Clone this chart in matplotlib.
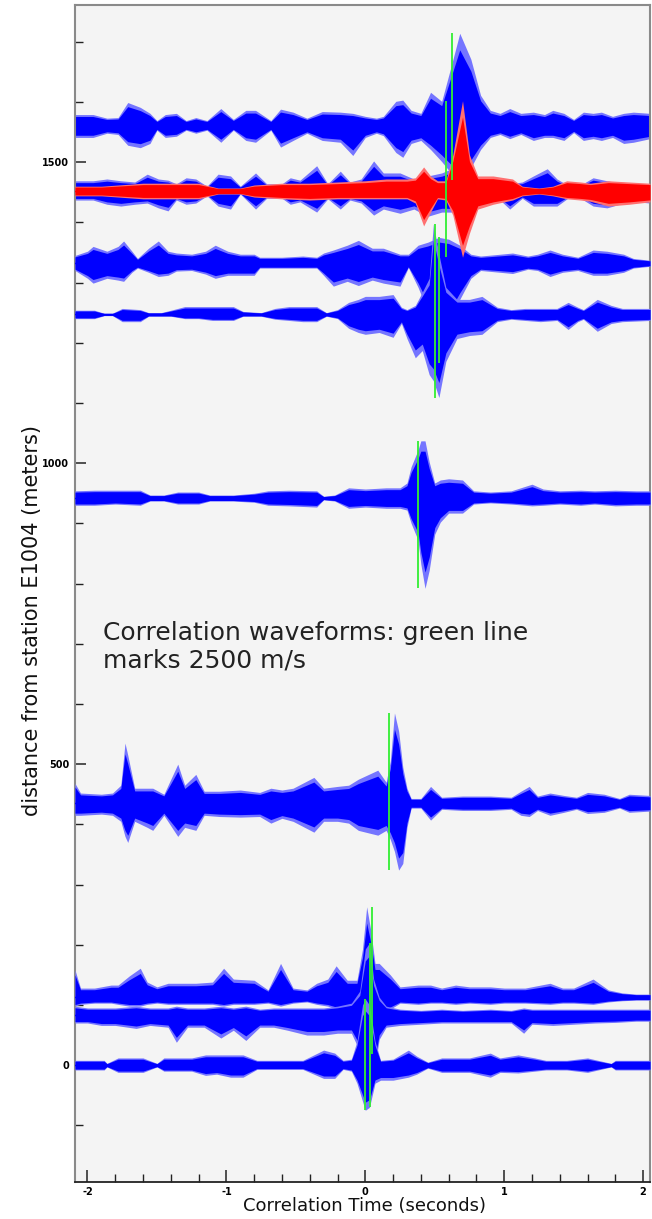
import matplotlib
matplotlib.use("Agg")
import matplotlib.pyplot as plt
from matplotlib.ticker import MultipleLocator, FixedLocator
import numpy as np

# ---------------- data ----------------
velocity = 2500  # m/s marked by green lines

# trace baselines: distance from station E1004 (m)
dist_1, dist_2, dist_3, dist_4 = 1561, 1452, 1332, 1247
dist_5, dist_6, dist_7, dist_8, dist_9 = 942, 435, 113, 83, 0

# envelope knots: time (s), upper amplitude (m), lower amplitude (m)
t1 = [-2.09, -1.96, -1.86, -1.78, -1.71, -1.62, -1.55, -1.50, -1.44, -1.36, -1.29, -1.22, -1.14, -1.04,
      -0.95, -0.86, -0.79, -0.68, -0.61, -0.52, -0.42, -0.31, -0.18, -0.09, 0.0, 0.08, 0.13, 0.22, 0.27,
      0.33, 0.40, 0.47, 0.55, 0.62, 0.68, 0.76, 0.83, 0.90, 0.97, 1.04, 1.12, 1.21, 1.29, 1.35, 1.43,
      1.50, 1.57, 1.64, 1.70, 1.78, 1.86, 1.93, 2.05]
u1 = [18, 18, 12, 13, 38, 30, 20, 8, 18, 20, 8, 13, 8, 28, 10, 25, 25, 8, 27, 22, 12, 23, 22, 20, 15, 12,
      15, 40, 42, 25, 20, 55, 40, 100, 153, 110, 50, 25, 20, 28, 20, 22, 18, 25, 20, 10, 22, 20, 22, 15,
      20, 22, 20]
d1 = [20, 20, 13, 15, 33, 37, 30, 8, 20, 18, 8, 13, 8, 28, 8, 25, 28, 8, 36, 25, 13, 25, 28, 50, 20, 13,
      17, 45, 53, 30, 25, 40, 60, 80, 90, 70, 40, 20, 15, 22, 15, 25, 20, 20, 25, 12, 25, 22, 25, 20,
      30, 28, 22]

t2 = [-2.09, -1.96, -1.86, -1.76, -1.66, -1.57, -1.49, -1.42, -1.36, -1.29, -1.22, -1.14, -1.06, -0.97,
      -0.90, -0.79, -0.71, -0.60, -0.54, -0.47, -0.35, -0.27, -0.18, -0.11, -0.03, 0.06, 0.13, 0.25,
      0.35, 0.45, 0.55, 0.65, 0.75, 0.88, 0.97, 1.04, 1.13, 1.21, 1.31, 1.38, 1.47, 1.55, 1.64, 1.74,
      1.86, 1.96, 2.05]
u2 = [17, 17, 20, 17, 15, 28, 20, 18, 12, 22, 20, 8, 28, 25, 8, 30, 12, 12, 22, 18, 42, 12, 33, 15, 20,
      50, 30, 30, 20, 25, 30, 40, 30, 12, 10, 12, 15, 25, 37, 20, 8, 10, 22, 17, 12, 12, 12]
d2 = [15, 15, 22, 25, 22, 20, 28, 33, 15, 22, 20, 8, 25, 30, 5, 30, 12, 12, 22, 18, 35, 13, 30, 15, 20,
      40, 30, 37, 30, 42, 35, 35, 30, 13, 15, 30, 12, 25, 25, 25, 10, 12, 25, 28, 20, 18, 20]

t_red = [-2.09, -1.90, -1.78, -1.60, -1.40, -1.20, -1.06, -0.90, -0.80, -0.60, -0.40, -0.20, 0.0, 0.15,
         0.30, 0.36, 0.42, 0.47, 0.52, 0.58, 0.63, 0.70, 0.75, 0.81, 0.92, 1.06, 1.13, 1.25, 1.35, 1.45,
         1.55, 1.62, 1.75, 1.90, 2.05]
u_red = [8, 8, 10, 13, 13, 13, 5, 5, 10, 13, 13, 15, 17, 20, 20, 22, 40, 25, 17, 17, 60, 150, 60, 25, 25,
         20, 8, 5, 8, 17, 15, 13, 17, 15, 13]
d_red = [8, 8, 10, 13, 13, 13, 5, 5, 10, 13, 15, 13, 13, 13, 13, 20, 58, 35, 13, 15, 40, 110, 70, 30, 22,
         15, 8, 5, 8, 13, 15, 17, 25, 22, 18]

t3 = [-2.09, -2.00, -1.96, -1.86, -1.78, -1.74, -1.68, -1.64, -1.56, -1.49, -1.42, -1.36, -1.25, -1.15,
      -1.08, -0.99, -0.90, -0.80, -0.76, -0.60, -0.45, -0.35, -0.30, -0.23, -0.13, -0.05, 0.05, 0.13,
      0.25, 0.31, 0.38, 0.45, 0.53, 0.60, 0.68, 0.76, 0.83, 0.97, 1.06, 1.17, 1.24, 1.33, 1.42, 1.53,
      1.64, 1.74, 1.86, 1.93, 2.05]
u3 = [13, 20, 28, 20, 28, 37, 20, 8, 25, 37, 20, 17, 15, 20, 30, 20, 15, 15, 10, 10, 12, 10, 17, 22, 30,
      38, 25, 25, 15, 15, 30, 35, 43, 40, 30, 15, 12, 15, 17, 12, 15, 22, 15, 10, 22, 20, 15, 8, 5]
d3 = [12, 25, 33, 25, 28, 30, 15, 8, 15, 22, 20, 13, 12, 18, 25, 20, 20, 20, 8, 8, 8, 8, 20, 38, 30, 37,
      28, 33, 38, 7, 40, 80, 166, 100, 60, 25, 12, 15, 17, 10, 12, 22, 15, 12, 20, 20, 15, 8, 5]

t4 = [-2.09, -1.95, -1.88, -1.82, -1.75, -1.62, -1.56, -1.47, -1.40, -1.30, -1.20, -1.10, -0.95, -0.88,
      -0.75, -0.65, -0.55, -0.45, -0.35, -0.28, -0.20, -0.12, -0.05, 0.0, 0.10, 0.20, 0.26, 0.30, 0.36,
      0.41, 0.46, 0.49, 0.53, 0.58, 0.66, 0.75, 0.84, 0.95, 1.05, 1.15, 1.26, 1.38, 1.46, 1.53, 1.57,
      1.67, 1.77, 1.85, 2.05]
u4 = [7, 7, 2, 2, 10, 8, 3, 3, 7, 13, 13, 13, 13, 5, 3, 10, 13, 13, 13, 3, 8, 20, 25, 30, 30, 33, 12, 8,
      15, 37, 60, 150, 100, 45, 25, 25, 30, 12, 8, 10, 10, 10, 20, 12, 8, 25, 15, 10, 10]
d4 = [7, 7, 2, 2, 12, 12, 3, 3, 3, 7, 7, 10, 10, 3, 3, 8, 10, 12, 12, 3, 7, 23, 30, 33, 30, 38, 15, 40,
      72, 60, 100, 110, 138, 78, 40, 35, 33, 12, 8, 10, 12, 10, 25, 12, 8, 28, 15, 12, 10]

t5 = [-2.09, -1.95, -1.80, -1.62, -1.55, -1.45, -1.35, -1.20, -1.12, -0.95, -0.80, -0.70, -0.55, -0.35,
      -0.30, -0.22, -0.12, 0.0, 0.15, 0.25, 0.30, 0.33, 0.38, 0.40, 0.43, 0.46, 0.50, 0.54, 0.60, 0.70,
      0.78, 0.90, 1.05, 1.20, 1.28, 1.40, 1.55, 1.65, 1.80, 1.95, 2.05]
u5 = [12, 13, 13, 13, 5, 5, 10, 10, 5, 5, 8, 12, 13, 12, 3, 5, 17, 15, 17, 17, 25, 52, 80, 95, 95, 60,
      25, 30, 32, 30, 12, 10, 12, 23, 15, 12, 13, 12, 13, 12, 12]
d5 = [12, 12, 10, 12, 5, 5, 10, 10, 5, 5, 7, 12, 13, 15, 3, 5, 17, 15, 17, 17, 20, 42, 70, 110, 150, 120,
      60, 40, 25, 25, 10, 8, 10, 13, 12, 10, 12, 10, 13, 12, 12]

t6 = [-2.09, -2.05, -1.90, -1.82, -1.76, -1.73, -1.71, -1.66, -1.57, -1.53, -1.45, -1.35, -1.30, -1.22,
      -1.16, -1.05, -0.90, -0.76, -0.68, -0.60, -0.52, -0.37, -0.30, -0.20, -0.12, -0.05, 0.09, 0.15,
      0.18, 0.21, 0.24, 0.27, 0.30, 0.33, 0.40, 0.47, 0.55, 0.70, 0.90, 1.05, 1.12, 1.18, 1.24, 1.33,
      1.43, 1.52, 1.60, 1.72, 1.83, 1.90, 2.05]
u6 = [33, 17, 15, 17, 30, 100, 80, 25, 25, 25, 15, 65, 30, 48, 20, 20, 22, 18, 25, 22, 25, 43, 25, 28, 30,
      40, 55, 35, 70, 150, 120, 60, 25, 8, 8, 28, 10, 12, 12, 10, 20, 28, 12, 17, 13, 10, 18, 15, 8, 15, 13]
d6 = [20, 20, 18, 20, 30, 55, 65, 30, 40, 45, 20, 55, 40, 45, 20, 22, 23, 22, 33, 25, 30, 48, 30, 30, 33,
      45, 53, 45, 60, 80, 111, 100, 40, 8, 8, 28, 10, 12, 12, 10, 20, 22, 12, 20, 15, 10, 17, 15, 8, 15, 13]

t7 = [-2.09, -2.05, -1.95, -1.83, -1.78, -1.70, -1.62, -1.57, -1.50, -1.42, -1.33, -1.22, -1.10, -1.02,
      -0.95, -0.80, -0.70, -0.61, -0.52, -0.42, -0.35, -0.27, -0.21, -0.13, -0.06, -0.02, 0.01, 0.04,
      0.07, 0.10, 0.18, 0.25, 0.38, 0.47, 0.55, 0.65, 0.75, 0.90, 1.00, 1.15, 1.33, 1.42, 1.50, 1.64,
      1.75, 1.85, 1.95, 2.05]
u7 = [45, 15, 15, 20, 20, 35, 48, 25, 17, 23, 23, 23, 25, 48, 30, 28, 12, 56, 15, 12, 23, 30, 52, 28, 28,
      80, 150, 110, 56, 56, 37, 17, 20, 20, 15, 20, 17, 17, 15, 15, 23, 15, 15, 30, 12, 7, 5, 5]
d7 = [15, 12, 10, 10, 12, 15, 15, 12, 10, 12, 12, 12, 12, 15, 12, 12, 10, 15, 10, 8, 12, 15, 20, 20, 30,
      60, 95, 80, 40, 30, 20, 10, 12, 10, 10, 12, 10, 12, 10, 10, 12, 10, 10, 12, 8, 6, 5, 5]

t8 = [-2.09, -2.00, -1.90, -1.80, -1.65, -1.55, -1.42, -1.36, -1.28, -1.16, -1.04, -0.95, -0.86, -0.76,
      -0.66, -0.56, -0.42, -0.30, -0.20, -0.10, -0.04, 0.0, 0.03, 0.06, 0.10, 0.15, 0.25, 0.40, 0.55,
      0.70, 0.90, 1.05, 1.14, 1.20, 1.35, 1.50, 1.65, 1.80, 1.95, 2.05]
u8 = [15, 12, 12, 12, 15, 12, 12, 15, 12, 12, 15, 12, 15, 10, 12, 12, 12, 12, 15, 20, 40, 110, 120, 60,
      30, 15, 10, 8, 10, 8, 10, 8, 12, 10, 10, 10, 10, 10, 10, 10]
d8 = [13, 13, 17, 17, 22, 17, 20, 45, 20, 20, 38, 25, 42, 20, 20, 25, 33, 33, 30, 30, 60, 120, 153, 100,
      40, 20, 17, 15, 13, 13, 13, 13, 30, 15, 17, 15, 13, 12, 10, 10]

t9 = [-2.09, -1.88, -1.86, -1.78, -1.60, -1.50, -1.45, -1.25, -1.15, -1.07, -0.97, -0.88, -0.78, -0.55,
      -0.45, -0.30, -0.22, -0.16, -0.10, -0.06, -0.02, 0.0, 0.03, 0.07, 0.11, 0.20, 0.31, 0.37, 0.45,
      0.55, 0.75, 0.90, 0.97, 1.10, 1.22, 1.30, 1.45, 1.60, 1.77, 1.80, 1.95, 2.05]
u9 = [8, 8, 3, 12, 12, 3, 12, 12, 17, 17, 17, 17, 8, 8, 8, 25, 20, 8, 10, 40, 100, 110, 100, 40, 8, 10,
      25, 15, 5, 12, 12, 20, 12, 17, 12, 8, 8, 12, 3, 8, 8, 8]
d9 = [8, 8, 3, 12, 12, 3, 10, 10, 17, 15, 20, 20, 7, 7, 7, 22, 22, 7, 10, 30, 60, 75, 70, 30, 25, 25,
      20, 15, 5, 12, 12, 20, 12, 13, 10, 8, 8, 12, 3, 8, 8, 8]

x_ticks = [-2, -1, 0, 1, 2]
y_ticks = [0, 500, 1000, 1500]
x_label = "Correlation Time (seconds)"
y_label = "distance from station E1004 (meters)"
note = "Correlation waveforms: green line\nmarks 2500 m/s"

# ---------------- figure ----------------
fig = plt.figure(figsize=(6.52, 12.19), dpi=100)
ax = fig.add_axes([0.115, 0.0304, 0.882, 0.9655])
ax.set_facecolor("#f4f4f4")

blue_traces = [
    (dist_1, t1, u1, d1), (dist_2, t2, u2, d2), (dist_3, t3, u3, d3), (dist_4, t4, u4, d4),
    (dist_5, t5, u5, d5), (dist_6, t6, u6, d6), (dist_7, t7, u7, d7), (dist_8, t8, u8, d8),
    (dist_9, t9, u9, d9),
]


def draw_trace(base, t, up, dn, light, dark, z):
    t = np.asarray(t, float)
    up = np.asarray(up, float)
    dn = np.asarray(dn, float)
    ax.fill_between(t, base + up, base - dn, color=light, lw=0, zorder=z)
    ax.fill_between(t, base + 0.82 * up, base - 0.82 * dn, color=dark, lw=0, zorder=z + 0.1)
    ax.plot(t, np.full_like(t, base), color=dark, lw=1.0, zorder=z + 0.2)


for i, (base, t, up, dn) in enumerate(blue_traces):
    draw_trace(base, t, up, dn, "#7575ff", "#0000ff", 2 + i * 0.3)

draw_trace(dist_2, t_red, u_red, d_red, "#ff7070", "#ff0000", 6)

# green lines: arrival time at 2500 m/s, spanning each trace's extent
for base, t, up, dn in blue_traces:
    top = max(up)
    bot = max(dn)
    if base == dist_2:
        top = max(top, max(u_red))
        bot = max(bot, max(d_red))
    ax.vlines(base / velocity, base - bot, base + top, color="#33ee33", lw=1.3, zorder=8)

ax.set_xlim(-2.09, 2.05)
ax.set_ylim(-194, 1761)

ax.xaxis.set_major_locator(FixedLocator(x_ticks))
ax.xaxis.set_minor_locator(MultipleLocator(0.2))
ax.yaxis.set_major_locator(FixedLocator(y_ticks))
ax.yaxis.set_minor_locator(MultipleLocator(100))
ax.set_xticklabels([str(v) for v in x_ticks])
ax.set_yticklabels([str(v) for v in y_ticks])

ax.tick_params(axis="x", which="major", direction="in", length=9, width=1.1, color="#222222",
               labelsize=7, pad=4)
ax.tick_params(axis="x", which="minor", direction="in", length=6, width=1.0, color="#222222")
ax.tick_params(axis="y", which="major", direction="in", length=8, width=1.1, color="#222222",
               labelsize=7, pad=4)
ax.tick_params(axis="y", which="minor", direction="in", length=6, width=1.0, color="#222222")
for lab in ax.get_xticklabels() + ax.get_yticklabels():
    lab.set_fontweight("bold")

for side in ["left", "top", "right"]:
    ax.spines[side].set_color("#8a8a8a")
    ax.spines[side].set_linewidth(1.5)
ax.spines["bottom"].set_color("#222222")
ax.spines["bottom"].set_linewidth(1.3)

ax.set_xlabel(x_label, fontsize=13, color="#111111")
ax.xaxis.set_label_coords(0.504, -0.013)
ax.set_ylabel(y_label, fontsize=15, color="#111111", va="center")
ax.yaxis.set_label_coords(-0.074, 0.477)

ax.text(-1.89, 738, note, fontsize=18, color="#222222", va="top", ha="left",
        linespacing=1.2, zorder=10)

fig.savefig("out.png", dpi=100, facecolor="white")
